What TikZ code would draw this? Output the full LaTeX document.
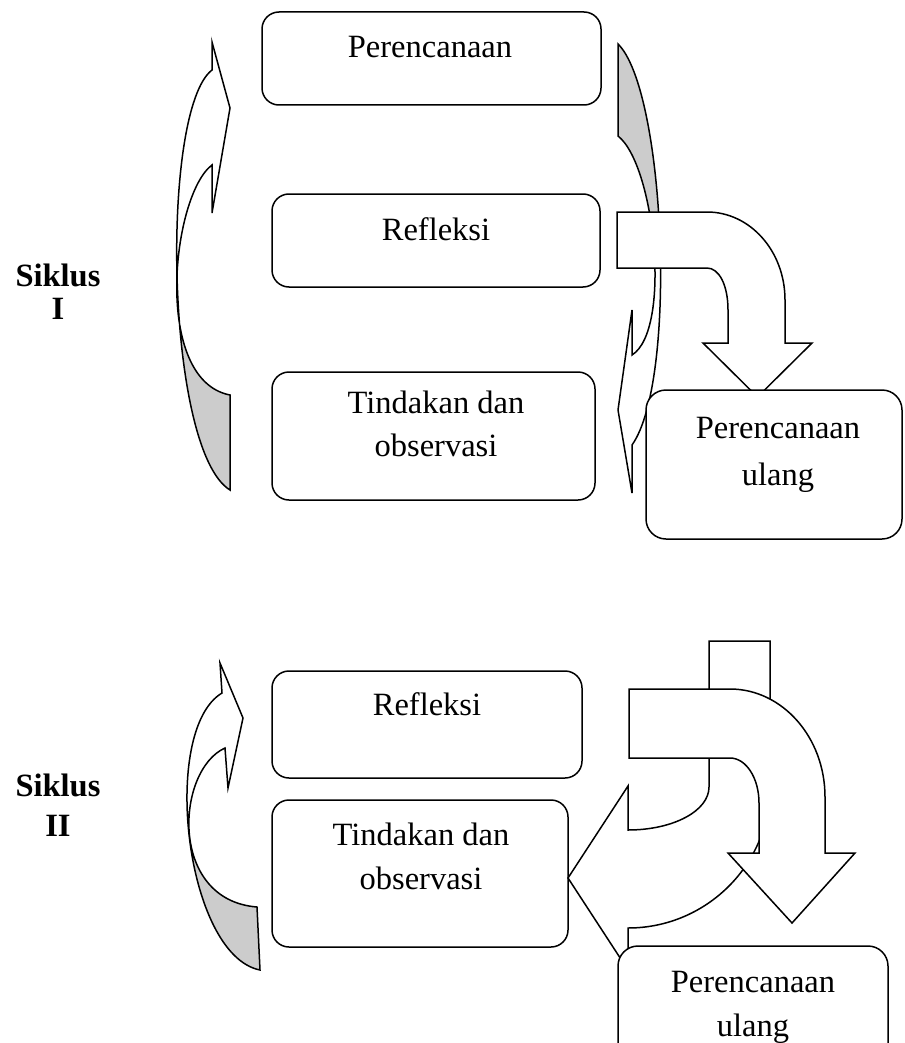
\documentclass[tikz,border=0pt]{standalone}
\usepackage{fontspec}
\setmainfont{Liberation Serif}
\begin{document}
\begin{tikzpicture}[x=1pt,y=-1pt,
  box/.style={draw, fill=white, rounded corners=17pt, line width=1.5pt, inner sep=0pt},
  lbl/.style={font=\fontsize{32.5}{43}\selectfont, anchor=base, inner sep=0pt},
  sik/.style={font=\fontsize{32.5}{36}\selectfont\bfseries, anchor=base, inner sep=0pt},
  arr/.style={draw, line width=1.5pt, line join=miter},
  back/.style={fill=black!20}]
\useasboundingbox (0,0) rectangle (904,1043);
\clip (0,0) rectangle (904,1043);

% ---------------- Siklus I ----------------
\node[sik] (s1a) at (58,286) {Siklus};
\node[sik] (s1b) at (58,319) {I};

% left curved arrow (top)
\def\lefttop{(230,490) .. controls (165,450) and (160,110) .. (212,70) -- (212,42) -- (230,108) -- (212,213) -- (212,165) .. controls (172,195) and (152,380) .. (230,395) -- cycle}
\fill[white] \lefttop;
\begin{scope}
  \clip (100,278) rectangle (300,520);
  \fill[back] \lefttop;
\end{scope}
\draw[arr] \lefttop;

% right curved arrow (top)
\def\righttop{(618,44) .. controls (665,90) and (678,380) .. (632,445) -- (632,493) -- (618,410) -- (632,310) -- (632,355) .. controls (672,330) and (655,165) .. (618,136) -- cycle}
\fill[white] \righttop;
\begin{scope}
  \clip (600,30) rectangle (700,240);
  \fill[back] \righttop;
\end{scope}
\draw[arr] \righttop;

% boxes
\node[box, minimum width=339pt, minimum height=93pt] (p1) at (431.5,58.5) {};
\node[lbl] (p1t) at (430,58) {Perencanaan};
\node[box, minimum width=328pt, minimum height=93pt] (r1) at (436,240.5) {};
\node[lbl] (r1t) at (436,240) {Refleksi};
\node[box, minimum width=323pt, minimum height=128pt] (t1) at (433.5,436) {};
\node[lbl] (t1a) at (436,413) {Tindakan dan};
\node[lbl] (t1b) at (436,456) {observasi};

% bent arrow (top)
\draw[arr, fill=white] (617,212) -- (707,212) .. controls (750,212) and (785,251) .. (785,300) -- (785,343) -- (812,343) -- (757.5,397) -- (703,343) -- (728,343) -- (728,310) .. controls (728,285) and (719,268) .. (707,268) -- (617,268) -- cycle;

\node[box, rounded corners=20pt, minimum width=256pt, minimum height=149pt] (u1) at (774,464.5) {};
\node[lbl] (u1a) at (778,438) {Perencanaan};
\node[lbl] (u1b) at (778,485) {ulang};

% ---------------- Siklus II ----------------
\node[sik] (s2a) at (58,796) {Siklus};
\node[sik] (s2b) at (58,836) {II};

% left curved arrow (bottom)
\def\leftbot{(260,970) .. controls (185,955) and (160,730) .. (222,693) -- (220,663) -- (243,718) -- (228,788) -- (225,748) .. controls (176,770) and (168,900) .. (257,907) -- cycle}
\fill[white] \leftbot;
\begin{scope}
  \clip (100,828) rectangle (300,1000);
  \fill[back] \leftbot;
\end{scope}
\draw[arr] \leftbot;

\node[box, minimum width=310pt, minimum height=107pt] (r2) at (427,724.5) {};
\node[lbl] (r2t) at (427,715) {Refleksi};
\node[box, minimum width=296pt, minimum height=147pt] (t2) at (420,873.5) {};
\node[lbl] (t2a) at (421,845) {Tindakan dan};
\node[lbl] (t2b) at (421,889) {observasi};

% back arrow (pointing left)
\draw[arr, fill=white] (709,641) -- (770,641) -- (770,787) .. controls (770,865) and (706,928) .. (628,928) -- (628,970) -- (568,878) -- (628,786) -- (628,830) .. controls (673,830) and (709,811) .. (709,787) -- cycle;

% front arrow (pointing down)
\draw[arr, fill=white] (629,689) -- (730,689) .. controls (782,689) and (825,737) .. (825,797) -- (825,853) -- (855,853) -- (792,923) -- (728,853) -- (759,853) -- (759,803) .. controls (759,778) and (746,758) .. (730,758) -- (629,758) -- cycle;

\node[box, rounded corners=20pt, minimum width=270pt, minimum height=154pt] (u2) at (753,1023) {};
\node[lbl] (u2a) at (753,992) {Perencanaan};
\node[lbl] (u2b) at (753,1036) {ulang};
\end{tikzpicture}
\end{document}
